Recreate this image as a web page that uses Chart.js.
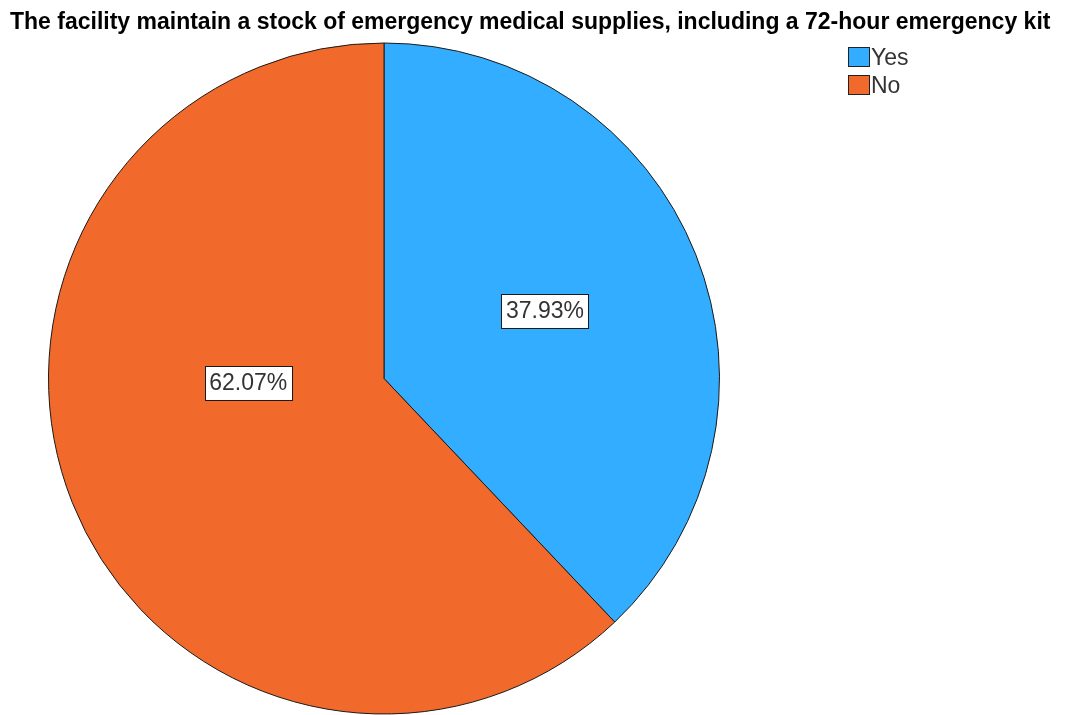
<!DOCTYPE html>
<html>
<head>
<meta charset="utf-8">
<script src="https://cdn.jsdelivr.net/npm/chart.js@4/dist/chart.umd.min.js"></script>
<style>
  html, body { margin: 0; padding: 0; background: #ffffff; }
  #wrap { width: 1070px; height: 715px; position: relative; }
</style>
</head>
<body>
<div id="wrap"><canvas id="c" width="1070" height="715"></canvas></div>
<script>
// Survey answer categories and their shares (percent)
const categories = ['Yes', 'No'];
const shares = [37.93, 62.07];
const sliceColors = ['#33adff', '#f26a2b'];
const chartTitle = 'The facility maintain a stock of emergency medical supplies, including a 72-hour emergency kit';

// Where each value label sits inside its slice: [fraction of radius, angle shift in degrees]
const labelPlacement = [[0.52, -1], [0.405, 20]];

const FONT = '"Liberation Sans", Arial, sans-serif';

// Title drawn left-aligned across the top
const titlePlugin = {
  id: 'titleText',
  afterDraw(chart) {
    const ctx = chart.ctx;
    ctx.save();
    ctx.font = 'bold 23px ' + FONT;
    ctx.fillStyle = '#000';
    ctx.textBaseline = 'alphabetic';
    ctx.textAlign = 'left';
    ctx.fillText(chartTitle, 10, 29, 1050);
    ctx.restore();
  }
};

// Legend in the upper right: square swatch plus category name
const legendPlugin = {
  id: 'sideLegend',
  afterDraw(chart) {
    const ctx = chart.ctx;
    ctx.save();
    ctx.font = '23px ' + FONT;
    ctx.textBaseline = 'middle';
    categories.forEach((name, i) => {
      const y = 47 + i * 28;
      ctx.fillStyle = sliceColors[i];
      ctx.fillRect(848.5, y + 0.5, 21, 19);
      ctx.strokeStyle = '#222';
      ctx.lineWidth = 1;
      ctx.strokeRect(848.5, y + 0.5, 21, 19);
      ctx.fillStyle = '#333';
      ctx.fillText(name, 871, y + 12);
    });
    ctx.restore();
  }
};

// Boxed percentage label inside each slice
const valueLabelPlugin = {
  id: 'valueLabels',
  afterDatasetsDraw(chart) {
    const ctx = chart.ctx;
    const meta = chart.getDatasetMeta(0);
    ctx.save();
    ctx.font = '23px ' + FONT;
    ctx.textAlign = 'center';
    ctx.textBaseline = 'middle';
    meta.data.forEach((arc, i) => {
      const p = arc.getProps(['x', 'y', 'startAngle', 'endAngle', 'outerRadius'], true);
      const [frac, shift] = labelPlacement[i];
      const a = (p.startAngle + p.endAngle) / 2 + shift * Math.PI / 180;
      const cx = p.x + Math.cos(a) * p.outerRadius * frac;
      const cy = p.y + Math.sin(a) * p.outerRadius * frac;
      const text = shares[i].toFixed(2) + '%';
      const w = ctx.measureText(text).width + 9;
      const h = 34;
      const bx = Math.round(cx - w / 2) + 0.5;
      const by = Math.round(cy - h / 2) + 0.5;
      ctx.fillStyle = '#ffffff';
      ctx.fillRect(bx, by, w, h);
      ctx.strokeStyle = '#1a1a1a';
      ctx.lineWidth = 1;
      ctx.strokeRect(bx, by, w, h);
      ctx.fillStyle = '#333';
      ctx.fillText(text, cx, cy + 1);
    });
    ctx.restore();
  }
};

new Chart(document.getElementById('c'), {
  type: 'pie',
  data: {
    labels: categories,
    datasets: [{
      data: shares,
      backgroundColor: sliceColors,
      borderColor: '#1a1a1a',
      borderWidth: 1
    }]
  },
  options: {
    responsive: false,
    animation: false,
    layout: { padding: { top: 42, bottom: 0, left: 48, right: 350 } },
    plugins: {
      legend: { display: false },
      title: { display: false },
      tooltip: { enabled: false }
    }
  },
  plugins: [titlePlugin, legendPlugin, valueLabelPlugin]
});
</script>
</body>
</html>
